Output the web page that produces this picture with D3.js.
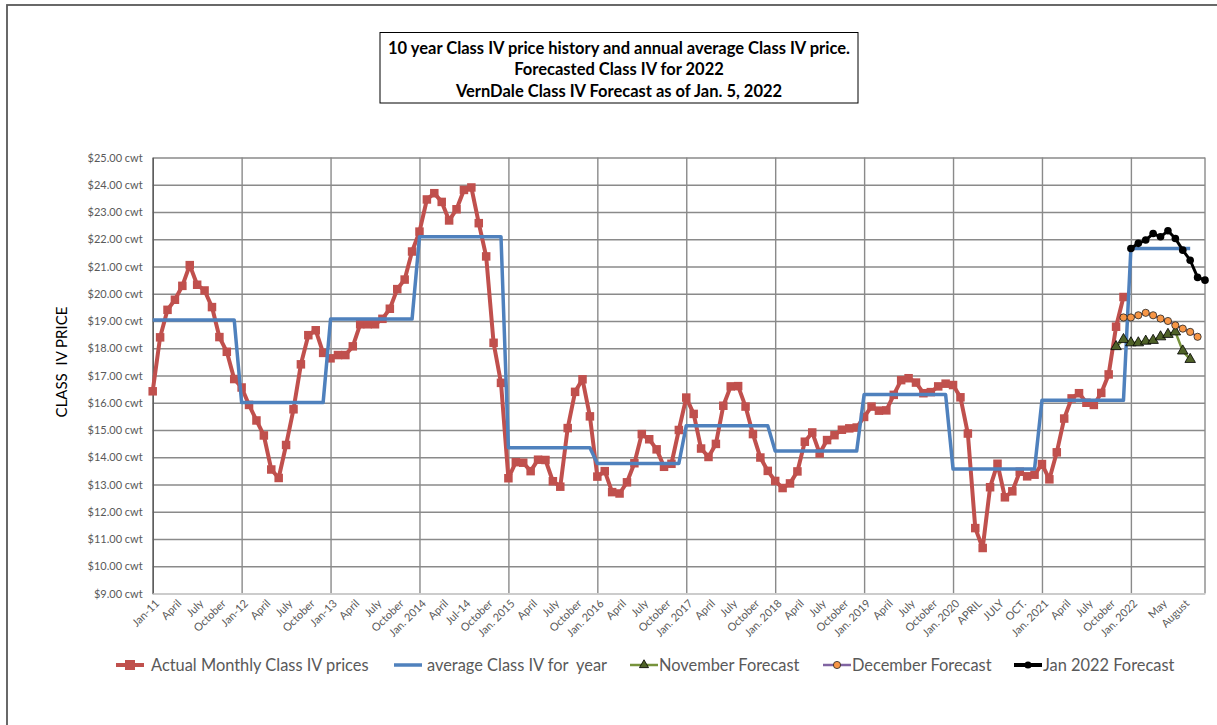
<!DOCTYPE html>
<html>
<head>
<meta charset="utf-8">
<script src="https://cdn.jsdelivr.net/npm/d3@7"></script>
<style>
  body { margin: 0; background: #fff; }
  svg { display: block; font-family: Lato, "Open Sans", sans-serif; }
</style>
</head>
<body>
<svg id="chart" width="1217" height="725"></svg>
<script>
// ---- data ----
const firstMonth = "2011-01";
const lastMonth = "2022-11";

// actual monthly Class IV, Jan 2011 .. Dec 2021
const actualMonthly = [
  16.42, 18.40, 19.41, 19.78, 20.29, 21.05, 20.33, 20.12, 19.51, 18.41, 17.87, 16.87, // 2011
  16.56, 15.92, 15.35, 14.80, 13.55, 13.24, 14.45, 15.76, 17.41, 18.48, 18.66, 17.83, // 2012
  17.63, 17.75, 17.75, 18.07, 18.88, 18.88, 18.88, 19.08, 19.45, 20.17, 20.52, 21.55, // 2013
  22.28, 23.46, 23.69, 23.37, 22.69, 23.10, 23.81, 23.90, 22.59, 21.37, 18.20, 16.73, // 2014
  13.23, 13.82, 13.80, 13.49, 13.91, 13.90, 13.12, 12.92, 15.07, 16.40, 16.86, 15.50, // 2015
  13.29, 13.49, 12.72, 12.67, 13.08, 13.78, 14.85, 14.66, 14.29, 13.65, 13.76, 15.00, // 2016
  16.19, 15.59, 14.32, 14.01, 14.49, 15.89, 16.60, 16.61, 15.86, 14.85, 13.99, 13.50, // 2017
  13.13, 12.87, 13.04, 13.48, 14.57, 14.91, 14.14, 14.63, 14.81, 15.01, 15.06, 15.09, // 2018
  15.48, 15.86, 15.71, 15.72, 16.29, 16.83, 16.90, 16.74, 16.35, 16.39, 16.60, 16.70, // 2019
  16.65, 16.20, 14.87, 11.40, 10.67, 12.90, 13.76, 12.53, 12.75, 13.47, 13.30, 13.36, // 2020
  13.75, 13.19, 14.18, 15.42, 16.16, 16.35, 16.00, 15.92, 16.36, 17.04, 18.79, 19.88  // 2021
];

// annual averages, drawn flat across each year's months
const avgYears  = [2011, 2012, 2013, 2014, 2015, 2016, 2017, 2018, 2019, 2020, 2021, 2022];
const avgValues = [19.04, 16.01, 19.07, 22.09, 14.35, 13.77, 15.16, 14.23, 16.30, 13.57, 16.09, 21.66];
const avgLastMonth = "2022-09";

const novStart = "2021-11";
const novForecast = [18.06, 18.32, 18.20, 18.20, 18.26, 18.29, 18.42, 18.51, 18.60, 17.90, 17.59];
const decStart = "2021-12";
const decForecast = [19.13, 19.13, 19.21, 19.30, 19.21, 19.09, 19.00, 18.84, 18.72, 18.60, 18.42];
const janStart = "2022-01";
const janForecast = [21.66, 21.85, 21.97, 22.21, 22.09, 22.31, 22.03, 21.60, 21.23, 20.60, 20.50];

const tickLabels = [
  ["2011-01","Jan-11"],["2011-04","April"],["2011-07","July"],["2011-10","October"],
  ["2012-01","Jan-12"],["2012-04","April"],["2012-07","July"],["2012-10","October"],
  ["2013-01","Jan-13"],["2013-04","April"],["2013-07","July"],["2013-10","October"],
  ["2014-01","Jan. 2014"],["2014-04","April"],["2014-07","Jul-14"],["2014-10","October"],
  ["2015-01","Jan. 2015"],["2015-04","April"],["2015-07","July"],["2015-10","October"],
  ["2016-01","Jan. 2016"],["2016-04","April"],["2016-07","July"],["2016-10","October"],
  ["2017-01","Jan. 2017"],["2017-04","April"],["2017-07","July"],["2017-10","October"],
  ["2018-01","Jan. 2018"],["2018-04","April"],["2018-07","July"],["2018-10","October"],
  ["2019-01","Jan. 2019"],["2019-04","April"],["2019-07","July"],["2019-10","October"],
  ["2020-01","Jan. 2020"],["2020-04","APRIL"],["2020-07","JULY"],["2020-10","OCT."],
  ["2021-01","Jan. 2021"],["2021-04","April"],["2021-07","July"],["2021-10","October"],
  ["2022-01","Jan. 2022"],["2022-05","May"],["2022-08","August"]
];

const yTicks = [9, 10, 11, 12, 13, 14, 15, 16, 17, 18, 19, 20, 21, 22, 23, 24, 25];

const titleLines = [
  "10 year Class IV price history and annual average Class IV price.",
  "Forecasted Class IV for 2022",
  "VernDale Class IV Forecast as of Jan. 5, 2022"
];

// ---- build month categories ----
const key = (yr, m) => yr + "-" + String(m).padStart(2, "0");
const months = [];
for (let yr = 2011; yr <= 2022; yr++) {
  for (let m = 1; m <= 12; m++) {
    months.push(key(yr, m));
    if (key(yr, m) === lastMonth) break;
  }
}
const fromStart = (start, vals) => {
  const i0 = months.indexOf(start);
  return vals.map((v, i) => ({ k: months[i0 + i], v }));
};

const actualData = fromStart(firstMonth, actualMonthly);
const avgData = [];
avgYears.forEach((yr, i) => {
  for (let m = 1; m <= 12; m++) {
    const k = key(yr, m);
    if (k > avgLastMonth) break;
    avgData.push({ k, v: avgValues[i] });
  }
});
const novData = fromStart(novStart, novForecast);
const decData = fromStart(decStart, decForecast);
const janData = fromStart(janStart, janForecast);

// ---- chart ----
const svg = d3.select("#chart");
const plotL = 152.7, plotR = 1205, plotT = 157.5, plotB = 593.5;

const x = d3.scalePoint().domain(months).range([plotL, plotR]);
const y = d3.scaleLinear().domain([9, 25]).range([plotB, plotT]);

// outer frame
svg.append("rect")
  .attr("x", 7).attr("y", 5).attr("width", 1260).attr("height", 760)
  .attr("fill", "none").attr("stroke", "#595959").attr("stroke-width", 1.8);

// title box
svg.append("rect")
  .attr("x", 380).attr("y", 32.5).attr("width", 478).attr("height", 70.5)
  .attr("fill", "#fff").attr("stroke", "#000").attr("stroke-width", 1);
svg.append("g").selectAll("text").data(titleLines).join("text")
  .attr("x", 619).attr("y", (d, i) => 54 + i * 21.3)
  .attr("text-anchor", "middle")
  .attr("font-size", 16.5).attr("font-weight", "bold").attr("fill", "#000")
  .text(d => d);

// horizontal grid
svg.append("g")
  .attr("transform", `translate(${plotL},0)`)
  .call(d3.axisLeft(y).tickValues(yTicks).tickSize(-(plotR - plotL)).tickFormat(""))
  .call(g => g.select(".domain").remove())
  .call(g => g.selectAll("line").attr("stroke", "#8a8a8a").attr("stroke-width", 1.4));

// vertical grid at each January + right edge
const janMonths = months.filter(k => k.endsWith("-01"));
svg.append("g")
  .attr("transform", `translate(0,${plotB})`)
  .call(d3.axisBottom(x).tickValues(janMonths).tickSize(-(plotB - plotT)).tickFormat(""))
  .call(g => g.select(".domain").remove())
  .call(g => g.selectAll("line").attr("stroke", "#8a8a8a").attr("stroke-width", 1.4));
svg.append("line")
  .attr("x1", plotR).attr("x2", plotR).attr("y1", plotT).attr("y2", plotB)
  .attr("stroke", "#8a8a8a").attr("stroke-width", 1.4);

// y axis labels
svg.append("g")
  .attr("transform", `translate(${plotL},0)`)
  .call(d3.axisLeft(y).tickValues(yTicks).tickSize(0).tickPadding(10)
    .tickFormat(d => "$" + d.toFixed(2) + " cwt"))
  .call(g => g.select(".domain").attr("stroke", "#595959").attr("stroke-width", 1.4))
  .call(g => g.selectAll("text").attr("font-size", 11).attr("fill", "#595959")
    .attr("font-family", "Lato, sans-serif"));

// x axis line + labels
const labelMap = new Map(tickLabels);
const xAxis = svg.append("g")
  .attr("transform", `translate(0,${plotB})`)
  .call(d3.axisBottom(x).tickValues(tickLabels.map(d => d[0])).tickSize(0)
    .tickFormat(k => labelMap.get(k)));
xAxis.select(".domain").attr("stroke", "#d9d9d9").attr("stroke-width", 1.6);
xAxis.selectAll("text")
  .attr("font-size", 11).attr("fill", "#595959").attr("font-family", "Lato, sans-serif")
  .attr("text-anchor", "end")
  .attr("y", 0).attr("dy", "0.35em")
  .attr("transform", "translate(4,8) rotate(-45)");

// axis title
svg.append("text")
  .attr("transform", "translate(67,362) rotate(-90)")
  .attr("text-anchor", "middle")
  .attr("font-size", 15).attr("fill", "#000")
  .style("white-space", "pre")
  .text("CLASS  IV PRICE");

// ---- series ----
const line = d3.line().x(d => x(d.k)).y(d => y(d.v));
const colors = {
  actual: "#c0504d", avg: "#4f81bd", nov: "#77933c", novMark: "#4f6228",
  dec: "#8064a2", decMark: "#f79646", jan: "#000000"
};

// actual
svg.append("path").datum(actualData).attr("d", line)
  .attr("fill", "none").attr("stroke", colors.actual).attr("stroke-width", 4)
  .attr("stroke-linejoin", "round");
svg.append("g").selectAll("rect").data(actualData).join("rect")
  .attr("x", d => x(d.k) - 4.25).attr("y", d => y(d.v) - 4.25)
  .attr("width", 8.5).attr("height", 8.5).attr("fill", colors.actual);

// annual average
svg.append("path").datum(avgData).attr("d", line)
  .attr("fill", "none").attr("stroke", colors.avg).attr("stroke-width", 3.5)
  .attr("stroke-linejoin", "round");

// november forecast
svg.append("path").datum(novData).attr("d", line)
  .attr("fill", "none").attr("stroke", colors.nov).attr("stroke-width", 2.5);
const tri = d3.symbol(d3.symbolTriangle, 48);
svg.append("g").selectAll("path").data(novData).join("path")
  .attr("d", tri)
  .attr("transform", d => `translate(${x(d.k)},${y(d.v)})`)
  .attr("fill", colors.novMark).attr("stroke", "#000").attr("stroke-width", 0.8);

// december forecast
svg.append("path").datum(decData).attr("d", line)
  .attr("fill", "none").attr("stroke", colors.dec).attr("stroke-width", 2.2);
svg.append("g").selectAll("circle").data(decData).join("circle")
  .attr("cx", d => x(d.k)).attr("cy", d => y(d.v)).attr("r", 3.6)
  .attr("fill", colors.decMark).attr("stroke", "#222").attr("stroke-width", 0.8);

// jan 2022 forecast
svg.append("path").datum(janData).attr("d", line)
  .attr("fill", "none").attr("stroke", colors.jan).attr("stroke-width", 3)
  .attr("stroke-linejoin", "round");
svg.append("g").selectAll("circle").data(janData).join("circle")
  .attr("cx", d => x(d.k)).attr("cy", d => y(d.v)).attr("r", 3.8)
  .attr("fill", colors.jan);

// ---- legend ----
const legendY = 665;
const legendItems = [
  { label: "Actual Monthly Class IV prices", x: 116, tx: 35, color: colors.actual, w: 4, mark: "square" },
  { label: "average Class IV for  year", x: 394, tx: 33, color: colors.avg, w: 3.5, mark: null },
  { label: "November Forecast", x: 630, tx: 29, color: colors.nov, w: 2.5, mark: "triangle" },
  { label: "December Forecast", x: 823, tx: 29, color: colors.dec, w: 2.5, mark: "circle" },
  { label: "Jan 2022 Forecast", x: 1014, tx: 29, color: colors.jan, w: 4, mark: "dot" }
];
const lg = svg.append("g").selectAll("g").data(legendItems).join("g")
  .attr("transform", d => `translate(${d.x},${legendY})`);
lg.append("line").attr("x1", 0).attr("x2", 28).attr("y1", 0).attr("y2", 0)
  .attr("stroke", d => d.color).attr("stroke-width", d => d.w);
lg.filter(d => d.mark === "square").append("rect")
  .attr("x", 9).attr("y", -5).attr("width", 10).attr("height", 10).attr("fill", colors.actual);
lg.filter(d => d.mark === "triangle").append("path")
  .attr("d", d3.symbol(d3.symbolTriangle, 36)).attr("transform", "translate(14,0)")
  .attr("fill", colors.novMark).attr("stroke", "#000").attr("stroke-width", 0.8);
lg.filter(d => d.mark === "circle").append("circle")
  .attr("cx", 14).attr("r", 3.6).attr("fill", colors.decMark)
  .attr("stroke", "#222").attr("stroke-width", 0.8);
lg.filter(d => d.mark === "dot").append("circle")
  .attr("cx", 14).attr("r", 3.6).attr("fill", colors.jan);
lg.append("text")
  .attr("x", d => d.tx).attr("dy", "0.35em")
  .attr("font-size", 16.4).attr("fill", "#595959")
  .style("white-space", "pre")
  .text(d => d.label);
</script>
</body>
</html>
